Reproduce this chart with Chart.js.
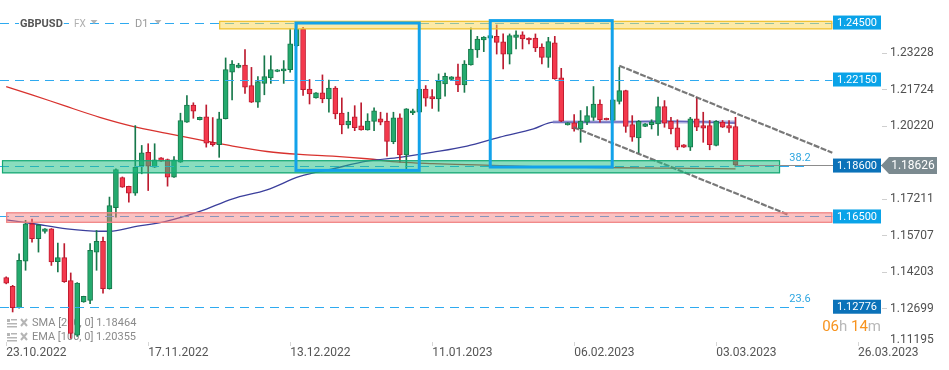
<!DOCTYPE html>
<html>
<head>
<meta charset="utf-8">
<script src="https://cdn.jsdelivr.net/npm/chart.js@4.4.1/dist/chart.umd.min.js"></script>
<style>
html, body { margin: 0; padding: 0; background: #fff; }
#wrap { width: 949px; height: 370px; }
</style>
</head>
<body>
<div id="wrap"><canvas id="chart" width="949" height="370"></canvas></div>
<script>
// ==================== DATA ====================
// GBPUSD D1, one bar per trading day (Sunday bars included)
const open = [1.1398,1.1362,1.1274,1.1466,1.1620,1.1558,1.1588,1.1599,1.1463,1.1480,
  1.1385,1.1160,1.1297,1.1304,1.1503,1.1547,1.1352,1.1686,1.1810,1.1774,
  1.1746,1.1860,1.1915,1.1853,1.1892,1.1885,1.1812,1.1874,1.2039,1.2110,
  1.2049,1.2061,1.1956,1.1946,1.2053,1.2245,1.2265,1.2275,1.2190,1.2121,
  1.2199,1.2222,1.2248,1.2250,1.2256,1.2355,1.2423,1.2176,1.2139,1.2160,
  1.2135,1.2180,1.2077,1.2028,1.2061,1.2024,1.2007,1.2042,1.2053,1.2044,
  1.1959,1.2057,1.1904,1.2077,1.2080,1.2176,1.2145,1.2135,1.2197,1.2215,
  1.2226,1.2193,1.2275,1.2337,1.2378,1.2386,1.2393,1.2370,1.2320,1.2389,
  1.2399,1.2386,1.2386,1.2349,1.2306,1.2366,1.2222,1.2028,1.2036,1.2011,
  1.2039,1.2059,1.2114,1.2055,1.2046,1.2125,1.2169,1.2029,1.1974,1.2021,
  1.2029,1.2032,1.2103,1.2042,1.2016,1.1946,1.1936,1.2053,1.2025,1.2025,
  1.1943,1.2039,1.2025,1.2021];
const high = [1.1401,1.1366,1.1496,1.1634,1.1639,1.1617,1.1600,1.1600,1.1540,1.1538,
  1.1417,1.1377,1.1321,1.1538,1.1592,1.1565,1.1730,1.1846,1.1813,1.1775,
  1.2025,1.1943,1.1950,1.1950,1.1893,1.1887,1.1897,1.2076,1.2149,1.2119,
  1.2060,1.2110,1.2058,1.2080,1.2304,1.2293,1.2282,1.2338,1.2265,1.2227,
  1.2313,1.2313,1.2256,1.2293,1.2425,1.2451,1.2430,1.2215,1.2161,1.2234,
  1.2213,1.2186,1.2139,1.2080,1.2107,1.2119,1.2074,1.2098,1.2080,1.2077,
  1.2080,1.2073,1.2095,1.2093,1.2190,1.2190,1.2173,1.2238,1.2241,1.2227,
  1.2279,1.2293,1.2428,1.2393,1.2392,1.2397,1.2440,1.2403,1.2403,1.2416,
  1.2412,1.2387,1.2403,1.2362,1.2389,1.2393,1.2261,1.2037,1.2070,1.2087,
  1.2103,1.2186,1.2131,1.2056,1.2132,1.2265,1.2171,1.2066,1.2046,1.2033,
  1.2049,1.2142,1.2128,1.2059,1.2049,1.1947,1.2059,1.2142,1.2080,1.2046,
  1.2046,1.2046,1.2046,1.2059];
const low = [1.1372,1.1256,1.1272,1.1428,1.1544,1.1503,1.1581,1.1448,1.1421,1.1378,
  1.1147,1.1155,1.1296,1.1290,1.1428,1.1334,1.1350,1.1647,1.1770,1.1709,
  1.1737,1.1826,1.1757,1.1852,1.1877,1.1775,1.1811,1.1873,1.2038,1.2055,
  1.2048,1.1936,1.1940,1.1894,1.2052,1.2131,1.2263,1.2158,1.2120,1.2100,
  1.2152,1.2199,1.2247,1.2199,1.2245,1.2351,1.2149,1.2114,1.2138,1.2119,
  1.2080,1.2053,1.1991,1.2014,1.2004,1.2006,1.2006,1.2004,1.2028,1.1899,
  1.1950,1.1874,1.1844,1.2070,1.2079,1.2105,1.2096,1.2084,1.2146,1.2214,
  1.2165,1.2162,1.2274,1.2306,1.2330,1.2385,1.2320,1.2259,1.2279,1.2341,
  1.2341,1.2362,1.2330,1.2279,1.2265,1.2216,1.2041,1.2027,1.2002,1.1956,
  1.2029,1.2046,1.2039,1.2048,1.2044,1.2114,1.1997,1.1960,1.1911,1.2020,
  1.2011,1.1984,1.2018,1.1991,1.1925,1.1935,1.1922,1.2004,1.1956,1.1925,
  1.1941,1.2017,1.1997,1.1855];
const close = [1.1375,1.1274,1.1469,1.1620,1.1558,1.1614,1.1599,1.1462,1.1480,1.1381,
  1.1167,1.1375,1.1320,1.1510,1.1547,1.1352,1.1695,1.1843,1.1771,1.1746,
  1.1853,1.1913,1.1857,1.1884,1.1878,1.1812,1.1884,1.2046,1.2110,1.2084,
  1.2059,1.1952,1.1946,1.2053,1.2256,1.2279,1.2275,1.2183,1.2121,1.2206,
  1.2227,1.2256,1.2255,1.2259,1.2362,1.2423,1.2173,1.2156,1.2160,1.2135,
  1.2180,1.2073,1.2028,1.2044,1.2016,1.2007,1.2044,1.2086,1.2039,1.1960,
  1.2057,1.1904,1.2094,1.2086,1.2176,1.2138,1.2135,1.2208,1.2228,1.2226,
  1.2193,1.2279,1.2341,1.2382,1.2390,1.2396,1.2368,1.2320,1.2396,1.2399,
  1.2382,1.2378,1.2345,1.2306,1.2371,1.2217,1.2043,1.2036,1.2011,1.2044,
  1.2066,1.2114,1.2049,1.2049,1.2131,1.2169,1.2021,1.1977,1.2042,1.2032,
  1.2039,1.2103,1.2035,1.2011,1.1936,1.1936,1.2053,1.2018,1.2014,1.1946,
  1.2042,1.2018,1.2014,1.18626];

// moving averages, read at a few bars
const smaX = [0, 4, 9, 14.5, 19.6, 24.9, 30, 35.1, 40.4, 45.5, 50.6, 55.9, 61, 66.1, 71.3, 76.5, 81.6, 92, 102.4, 113];
const smaY = [1.2186, 1.2152, 1.2107, 1.2059, 1.2022, 1.1993, 1.1966, 1.1940, 1.1918, 1.1906, 1.1899, 1.1888, 1.1874, 1.1868, 1.1864, 1.1860, 1.1856, 1.1852, 1.1849, 1.18464];
const emaX = [0, 4.2, 9.4, 14.5, 16.1, 19.6, 24.9, 30, 35.1, 40.4, 45.5, 50.7, 55.9, 61, 66.2, 71.4, 76.5, 81.7, 84.8, 92, 102.3, 113];
const emaY = [1.1636, 1.1620, 1.1599, 1.1589, 1.1589, 1.1606, 1.1631, 1.1671, 1.1723, 1.1760, 1.1815, 1.1847, 1.1878, 1.1894, 1.1915, 1.1940, 1.1977, 1.2011, 1.2039, 1.2039, 1.2043, 1.20355];
const flatX = [84.7, 113];
const flatY = [1.2040, 1.2040];

// drawn channel
const upperX = [95, 128];
const upperY = [1.2272, 1.1913];
const lowerX = [87.9, 121.1];
const lowerY = [1.2018, 1.1658];

// horizontal levels
const levelValues = [1.245, 1.2215, 1.186, 1.165, 1.12776];
const levelEnd = [128, 128, 124.5, 128, 124.5];
const fibText = ['', '', '38.2', '', '23.6'];
const currentPrice = 1.18626;

// zones and boxes
const zoneTop = [1.2457, 1.1882, 1.1667];
const zoneBottom = [1.2422, 1.1828, 1.1624];
const zoneStart = [33, -0.65, 0];
const zoneEnd = [128, 119.9, 128];
const boxStart = [44.9, 75.0];
const boxEnd = [64.0, 93.9];
const boxTop = [1.2448, 1.2458];
const boxBottom = [1.1840, 1.1854];

// axes
const dateTicks = [0, 22, 44, 66, 88, 110, 132];
const dateLabels = ['23.10.2022', '17.11.2022', '13.12.2022', '11.01.2023', '06.02.2023', '03.03.2023', '26.03.2023'];
const priceTicks = [1.23228, 1.21724, 1.20220, 1.17211, 1.15707, 1.14203, 1.12699];
const bottomTick = 1.11195;

const legendRows = ['SMA [200, 0] 1.18464', 'EMA [100, 0] 1.20355'];

// ==================== STYLE ====================
const GREEN = '#24aa6e', GREEN_EDGE = '#17784b';
const RED = '#f4394d', RED_EDGE = '#bd1b2f';
const LEVEL_BLUE = '#2eaaf0';
const CHANNEL = 'rgba(105,105,105,0.9)';
const zoneFill = ['rgba(250,214,80,0.5)', 'rgba(30,190,130,0.52)', 'rgba(245,120,120,0.45)'];
const zoneEdge = ['#f1c232', '#16a874', '#f08080'];
const levelBox = ['#0aa3e8', '#0aa3e8', '#0b72b9', '#0aa3e8', '#0b72b9'];

const up = close.map((c, i) => c >= open[i]);
const bodies = open.map((o, i) => ({ x: i, y: [Math.min(o, close[i]), Math.max(o, close[i])] }));
const wicks = high.map((h, i) => ({ x: i, y: [low[i], h] }));
const pts = (xs, ys) => xs.map((x, i) => ({ x, y: ys[i] }));

// ==================== DRAWINGS ====================
function legendIcon(ctx, x, y) {
    ctx.fillStyle = '#b5b5b5';
    ctx.fillRect(x, y - 4, 3, 3);
    ctx.fillRect(x + 4, y - 4, 6, 1.5);
    ctx.fillRect(x, y, 10, 1.5);
    ctx.fillRect(x, y + 3, 10, 1.5);
    ctx.strokeStyle = '#b5b5b5';
    ctx.lineWidth = 2;
    ctx.beginPath();
    ctx.moveTo(x + 14, y - 4); ctx.lineTo(x + 20, y + 3);
    ctx.moveTo(x + 20, y - 4); ctx.lineTo(x + 14, y + 3);
    ctx.stroke();
}

function triangle(ctx, x, y) {
    ctx.beginPath();
    ctx.moveTo(x, y); ctx.lineTo(x + 7, y); ctx.lineTo(x + 3.5, y + 4);
    ctx.closePath();
    ctx.fill();
}

const overlay = {
    id: 'overlay',
    beforeDatasetsDraw(chart) {
        const { ctx } = chart;
        ctx.save();
        ctx.font = '11px Roboto';
        ctx.textBaseline = 'middle';
        legendRows.forEach((t, i) => {
            const yy = 323 + i * 14;
            legendIcon(ctx, 7, yy);
            ctx.fillStyle = '#8a8a8a';
            ctx.fillText(t, 32, yy);
        });
        ctx.restore();
    },
    afterDatasetsDraw(chart) {
        const { ctx, chartArea: a } = chart;
        const x = chart.scales.x, y = chart.scales.y;
        ctx.save();

        // level lines
        ctx.lineWidth = 1;
        ctx.strokeStyle = LEVEL_BLUE;
        ctx.setLineDash([9, 6]);
        levelValues.forEach((v, i) => {
            const yy = Math.round(y.getPixelForValue(v)) + 0.5;
            ctx.beginPath();
            ctx.moveTo(a.left, yy);
            ctx.lineTo(x.getPixelForValue(levelEnd[i]), yy);
            ctx.stroke();
        });
        ctx.setLineDash([]);

        // zones
        zoneTop.forEach((t, i) => {
            const x0 = x.getPixelForValue(zoneStart[i]), x1 = x.getPixelForValue(zoneEnd[i]);
            const y0 = y.getPixelForValue(t), y1 = y.getPixelForValue(zoneBottom[i]);
            ctx.fillStyle = zoneFill[i];
            ctx.fillRect(x0, y0, x1 - x0, y1 - y0);
            ctx.strokeStyle = zoneEdge[i];
            ctx.lineWidth = 1.2;
            ctx.strokeRect(x0 + 0.5, y0 + 0.5, x1 - x0 - 1, y1 - y0 - 1);
        });

        // current price line
        const cy = Math.round(y.getPixelForValue(currentPrice)) + 0.5;
        ctx.strokeStyle = '#8c8c8c';
        ctx.lineWidth = 1;
        ctx.beginPath();
        ctx.moveTo(x.getPixelForValue(open.length - 1), cy);
        ctx.lineTo(a.right, cy);
        ctx.stroke();

        // blue boxes
        ctx.strokeStyle = '#12a2ea';
        ctx.lineWidth = 3;
        boxStart.forEach((s, i) => {
            const x0 = x.getPixelForValue(s), x1 = x.getPixelForValue(boxEnd[i]);
            const y0 = y.getPixelForValue(boxTop[i]), y1 = y.getPixelForValue(boxBottom[i]);
            ctx.strokeRect(x0, y0, x1 - x0, y1 - y0);
        });

        // fib texts
        ctx.font = '11px Roboto';
        ctx.fillStyle = '#2ea6e0';
        ctx.textAlign = 'right';
        ctx.textBaseline = 'alphabetic';
        fibText.forEach((t, i) => {
            if (!t) return;
            ctx.fillText(t, x.getPixelForValue(levelEnd[i]) + 1, y.getPixelForValue(levelValues[i]) - 5);
        });

        // level boxes on the right
        ctx.textAlign = 'center';
        ctx.textBaseline = 'middle';
        levelValues.forEach((v, i) => {
            const yy = y.getPixelForValue(v);
            ctx.fillStyle = levelBox[i];
            ctx.fillRect(a.right - 49, yy - 7, 48, 14);
            ctx.fillStyle = '#fff';
            ctx.fillText(v.toFixed(5), a.right - 25, yy + 0.5);
        });

        // current price tag
        ctx.fillStyle = '#7b8a90';
        ctx.beginPath();
        ctx.moveTo(a.right - 1, cy);
        ctx.lineTo(a.right + 7, cy - 8.5);
        ctx.lineTo(a.right + 55, cy - 8.5);
        ctx.lineTo(a.right + 55, cy + 8.5);
        ctx.lineTo(a.right + 7, cy + 8.5);
        ctx.closePath();
        ctx.fill();
        ctx.fillStyle = '#fff';
        ctx.font = '12px Roboto';
        ctx.fillText(currentPrice.toFixed(5), a.right + 31, cy + 0.5);

        // last price tick hidden at the bottom edge
        ctx.fillStyle = '#505050';
        ctx.textAlign = 'left';
        ctx.fillText(bottomTick.toFixed(5), y.left + 8, Math.min(y.getPixelForValue(bottomTick), a.bottom - 2));

        // countdown
        ctx.font = '15px Roboto';
        ctx.textBaseline = 'alphabetic';
        const parts = [['06', '#f7931e'], ['h ', '#b8b8b8'], ['14', '#f7931e'], ['m', '#b8b8b8']];
        let tx = a.right - 1 - parts.reduce((s, p) => s + ctx.measureText(p[0]).width, 0);
        parts.forEach(p => {
            ctx.fillStyle = p[1];
            ctx.fillText(p[0], tx, 331);
            tx += ctx.measureText(p[0]).width;
        });

        // header
        ctx.textBaseline = 'middle';
        const head = [['GBPUSD', 'bold 11px Roboto', '#555', 20], ['FX', '10px Roboto', '#b0b0b0', 74], ['D1', '11px Roboto', '#999', 135]];
        head.forEach(h => {
            ctx.font = h[1];
            const w = ctx.measureText(h[0]).width;
            ctx.fillStyle = '#fff';
            ctx.fillRect(h[3] - 1, 18, w + 2, 12);
            ctx.fillStyle = h[2];
            ctx.fillText(h[0], h[3], 24);
        });
        ctx.fillStyle = '#b5b5b5';
        triangle(ctx, 90.5, 20);
        triangle(ctx, 154.5, 20);

        ctx.restore();
    }
};

// ==================== CHART ====================
new Chart(document.getElementById('chart'), {
    type: 'bar',
    data: {
        datasets: [
            { type: 'line', data: pts(smaX, smaY), borderColor: '#d8322e', borderWidth: 1.3, pointRadius: 0, cubicInterpolationMode: 'monotone', order: 6 },
            { type: 'line', data: pts(emaX, emaY), borderColor: '#3b3f9c', borderWidth: 1.3, pointRadius: 0, cubicInterpolationMode: 'monotone', order: 5 },
            { type: 'line', data: pts(flatX, flatY), borderColor: 'rgba(125,125,205,0.6)', borderWidth: 3, pointRadius: 0, order: 4 },
            { type: 'bar', data: wicks, backgroundColor: up.map(u => u ? GREEN_EDGE : RED_EDGE), barThickness: 1, grouped: false, order: 3 },
            { type: 'bar', data: bodies, backgroundColor: up.map(u => u ? GREEN : RED), borderColor: up.map(u => u ? GREEN_EDGE : RED_EDGE),
              borderWidth: 1, borderSkipped: false, barThickness: 5, grouped: false, order: 2 },
            { type: 'line', data: pts(upperX, upperY), borderColor: CHANNEL, borderWidth: 2.2, borderDash: [6, 1.5], pointRadius: 0, order: 1 },
            { type: 'line', data: pts(lowerX, lowerY), borderColor: CHANNEL, borderWidth: 2.2, borderDash: [6, 1.5], pointRadius: 0, order: 1 }
        ]
    },
    options: {
        responsive: false,
        animation: false,
        events: [],
        layout: { padding: 0 },
        plugins: { legend: { display: false }, tooltip: { enabled: false } },
        scales: {
            x: {
                type: 'linear',
                min: -0.961,
                max: 135.70,
                offset: false,
                grid: { drawOnChartArea: false, offset: false, tickLength: 4, color: '#d6d6d6' },
                border: { display: false },
                ticks: {
                    autoSkip: false, maxRotation: 0, align: 'start', padding: 0,
                    color: '#555', font: { family: 'Roboto', size: 12 },
                    callback: (v, i) => dateLabels[i]
                },
                afterBuildTicks: s => { s.ticks = dateTicks.map(v => ({ value: v })); },
                afterFit: s => { s.height = 28; s.paddingLeft = 0; s.paddingRight = 0; }
            },
            y: {
                type: 'linear',
                position: 'right',
                min: 1.11321,
                max: 1.2543,
                beginAtZero: false,
                grid: { drawOnChartArea: false, tickLength: 5, color: '#cfcfcf' },
                border: { display: false },
                ticks: {
                    padding: 3, color: '#505050', font: { family: 'Roboto', size: 12 },
                    callback: v => v.toFixed(5)
                },
                afterBuildTicks: s => { s.ticks = priceTicks.map(v => ({ value: v })); },
                afterFit: s => { s.width = 67; s.paddingTop = 0; s.paddingBottom = 0; }
            }
        }
    },
    plugins: [overlay]
});
</script>
</body>
</html>
